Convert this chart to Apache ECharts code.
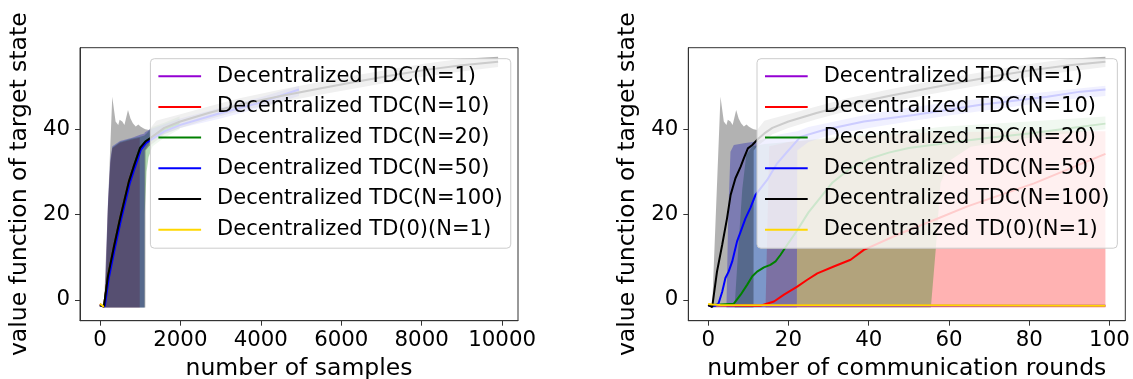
<!DOCTYPE html>
<html>
<head>
<meta charset="utf-8">
<script src="https://cdn.jsdelivr.net/npm/echarts@6/dist/echarts.min.js"></script>
<style>
  html, body { margin: 0; padding: 0; background: #fff; }
  #chart { width: 1133px; height: 379px; }
</style>
</head>
<body>
<div id="chart"></div>
<script>
// series order as plotted: N=1, N=10, N=20, N=50, N=100, TD(0)
const seriesNames = [
  'Decentralized TDC(N=1)',
  'Decentralized TDC(N=10)',
  'Decentralized TDC(N=20)',
  'Decentralized TDC(N=50)',
  'Decentralized TDC(N=100)',
  'Decentralized TD(0)(N=1)'
];
const seriesColors = ['#9400d3', '#ff0000', '#008000', '#0000ff', '#000000', '#ffd700'];

const xTicksSamples = [0, 2000, 4000, 6000, 8000, 10000];
const xTicksRounds = [0, 20, 40, 60, 80, 100];
const yTicks = [0, 20, 40];

// ---- left panel: x = number of samples ----
const leftPurpleSamples = [0, 50, 99];
const leftPurpleValues = [-1.0, -1.4, -1.6];
const leftRedSamples = [0, 100, 200, 350, 500, 720, 850, 990];
const leftRedValues = [-1.3, -1.6, 5.5, 12.5, 19, 27.7, 31.5, 34.6];
const leftGreenSamples = [0, 100, 200, 350, 500, 720, 850, 1000, 1130, 1240, 1600, 1980];
const leftGreenValues = [-1.3, -1.6, 5.5, 12.5, 19, 27.7, 31.5, 35.6, 37.1, 37.8, 40.0, 41.3];
const leftBlueSamples = [0, 120, 220, 370, 520, 740, 870, 1020, 1150, 1260, 1600, 2000, 2900, 3900, 4950];
const leftBlueValues = [-1.3, -1.6, 5, 12, 18.5, 27.2, 31, 35.2, 36.8, 37.5, 39.5, 41, 43.5, 46, 49.3];
const leftBlackSamples = [0, 100, 200, 350, 500, 720, 850, 1000, 1130, 1240, 1600, 2000, 2700, 3500, 4500, 5500, 6300, 7200, 8100, 9000, 9900];
const leftBlackValues = [-1.2, -1.6, 5.5, 12.5, 19, 27.7, 31.5, 35.6, 37.1, 37.8, 40.3, 41.8, 43.8, 45.8, 47.8, 49.6, 51, 52.5, 53.9, 55, 55.8];
const leftGoldSamples = [0, 50, 99];
const leftGoldValues = [-0.9, -1.3, -1.7];

const leftRedBandSamples = [125, 200, 260, 310, 500, 800, 990];
const leftRedBandLow = [-1.8, -1.8, -1.8, -1.8, -1.8, -1.8, -1.8];
const leftRedBandHigh = [-1.5, 22, 32, 35.5, 36.8, 37.6, 38];
const leftGreenBandSamples = [130, 200, 260, 310, 500, 800, 1000, 1110, 1112, 1160, 1210, 1310, 1600, 1980];
const leftGreenBandLow = [-1.8, -1.8, -1.8, -1.8, -1.8, -1.8, -1.8, -1.8, 20, 30, 33.5, 36, 38, 40];
const leftGreenBandHigh = [-1.5, 22, 32, 35.7, 37, 37.8, 38.2, 38.5, 38.6, 39, 39.5, 40.5, 41.5, 43];
const leftBlueBandSamples = [115, 200, 260, 310, 500, 800, 1000, 1110, 1112, 1250, 1500, 2000, 3000, 4000, 4950];
const leftBlueBandLow = [-1.8, -1.8, -1.8, -1.8, -1.8, -1.8, -1.8, -1.8, 35, 37, 38.5, 40.3, 42.5, 45, 47.8];
const leftBlueBandHigh = [-1.5, 23, 33, 36, 37.2, 38, 38.7, 39, 39.2, 40, 40.8, 42.5, 45, 47.5, 50.2];
const leftBlackBandSamples = [100, 307, 390, 456, 490, 556, 610, 698, 760, 820, 890, 955, 1010, 1080, 1130, 1135, 1220, 1400, 1600, 2000, 2700, 3500, 4500, 5500, 6300, 7200, 8100, 9000, 9900];
const leftBlackBandLow = [-1.8, -1.8, -1.8, -1.8, -1.8, -1.8, -1.8, -1.8, -1.8, -1.8, -1.8, -1.8, -1.8, -1.8, -1.8, 35, 36, 37.3, 38.8, 40.3, 42.3, 44.3, 46.3, 48.1, 49.5, 51, 52.4, 53.5, 54.6];
const leftBlackBandHigh = [-1.5, 47.6, 41.8, 41.0, 42.2, 41.8, 41.0, 44.5, 42.5, 41.4, 40.6, 41.1, 40.6, 40.2, 40.0, 40.0, 39.8, 42, 42.5, 43.5, 45.3, 47.3, 49.3, 51.1, 52.5, 54, 55.4, 56.5, 57];

// ---- right panel: x = number of communication rounds ----
const purpleRounds = [0, 25, 50, 75, 99];
const purpleValues = [-1.3, -1.4, -1.4, -1.4, -1.4];
const redRounds = [0, 13, 16.4, 18.9, 22.2, 24.7, 27.2, 31.3, 35.5, 38.8, 48, 56.3, 64.6, 72.9, 81.2, 89.5, 99];
const redValues = [-1.3, -1.4, -0.4, 1.2, 3.1, 4.7, 6.2, 7.8, 9.4, 11.7, 15.6, 18.7, 21.9, 24.6, 27.3, 30.5, 34.2];
const greenRounds = [0, 6.4, 8.1, 9.7, 11, 12.2, 13.9, 15.5, 16.8, 18, 19.7, 22, 25, 28, 31, 35, 40, 45, 50, 60, 70, 80, 90, 99];
const greenValues = [-1.3, -0.9, 1.2, 3.5, 5.5, 6.6, 7.6, 8.2, 9, 10.5, 12.9, 16, 20.5, 24, 27.5, 30.5, 33, 34.5, 35.6, 36.8, 38, 39, 40.2, 41.3];
const blueRounds = [0, 1, 1.8, 2.6, 3.5, 4.3, 5.1, 6, 7.2, 8.1, 9.3, 10.5, 11.8, 14.7, 17.2, 19.7, 23, 28.8, 38.8, 51.3, 67.9, 84.5, 92.8, 99];
const blueValues = [-1.3, -1.5, -1.4, -0.8, 1.9, 5.1, 6.6, 9, 13.7, 16, 19.1, 21.5, 24.6, 28.1, 32, 34.7, 38.2, 39.8, 41.8, 43.3, 45.7, 47.6, 48.8, 49.3];
const blackRounds = [0, 1, 2.2, 3.5, 4.7, 5.6, 6.8, 8.1, 8.9, 9.9, 11, 12.2, 14, 16, 20, 27, 35, 45, 55, 63, 72, 81, 90, 99];
const blackValues = [-1.2, -1.7, 6.6, 12.9, 19.1, 24.6, 28.5, 31.2, 33.2, 35.5, 36.3, 37.5, 39, 40.3, 41.8, 43.8, 45.8, 47.8, 49.6, 51, 52.5, 53.9, 55, 55.8];
const goldRounds = [0, 1, 3, 25, 50, 75, 99];
const goldValues = [-1.0, -1.1, -1.2, -1.25, -1.3, -1.35, -1.4];

const redBandRounds = [14.3, 15.2, 20, 30, 40, 56, 70, 85, 99];
const redBandLow = [-1.8, -1.8, -1.8, -1.8, -1.8, -1.8, -1.8, -1.8, -1.8];
const redBandHigh = [-1.5, 36, 37, 37.8, 38.5, 39.3, 39.4, 39.5, 39.5];
const greenBandRounds = [6.6, 7.5, 8.5, 9.5, 11, 14, 20, 30, 40, 50, 55.5, 56.7, 57.9, 60.4, 65.4, 80, 99];
const greenBandLow = [-1.8, -1.8, -1.8, -1.8, -1.8, -1.8, -1.8, -1.8, -1.8, -1.8, -1.8, 11.7, 27.4, 32.8, 35.9, 38, 40];
const greenBandHigh = [-1.5, 12, 26, 34, 36, 36.5, 37, 38, 39, 39.8, 40.2, 40.4, 40.5, 40.7, 41, 41.8, 43];
const blueBandRounds = [4.56, 5.0, 5.56, 6.4, 8.9, 11.8, 15, 18, 22.1, 22.2, 25, 30, 40, 50, 60, 70, 80, 90, 99];
const blueBandLow = [-1.8, -1.8, -1.8, -1.8, -1.8, -1.8, -1.8, -1.8, -1.8, 35, 37, 38.5, 40.3, 41.8, 43.2, 44.5, 45.8, 47, 47.8];
const blueBandHigh = [-1.5, 20, 34.7, 36.3, 36.7, 37.1, 38, 38.8, 39.5, 39.5, 40.5, 41.5, 43.5, 45, 46.3, 47.3, 48.3, 49.3, 50.2];
const blackBandRounds = [1, 3.07, 3.9, 4.56, 4.9, 5.56, 6.1, 6.98, 7.6, 8.2, 8.9, 9.55, 10.1, 10.8, 11.3, 11.35, 12.2, 14, 16, 20, 27, 35, 45, 55, 63, 72, 81, 90, 99];
const blackBandLow = [-1.8, -1.8, -1.8, -1.8, -1.8, -1.8, -1.8, -1.8, -1.8, -1.8, -1.8, -1.8, -1.8, -1.8, -1.8, 35, 36, 37.3, 38.8, 40.3, 42.3, 44.3, 46.3, 48.1, 49.5, 51, 52.4, 53.5, 54.6];
const blackBandHigh = [-1.5, 47.6, 41.8, 41.0, 42.2, 41.8, 41.0, 44.5, 42.5, 41.4, 40.6, 41.1, 40.6, 40.2, 40.0, 40.0, 39.8, 42, 42.5, 43.5, 45.3, 47.3, 49.3, 51.1, 52.5, 54, 55.4, 56.5, 57];

// [xs, ys] per series index, per panel
const panelLines = [
  [
    [leftPurpleSamples, leftPurpleValues],
    [leftRedSamples, leftRedValues],
    [leftGreenSamples, leftGreenValues],
    [leftBlueSamples, leftBlueValues],
    [leftBlackSamples, leftBlackValues],
    [leftGoldSamples, leftGoldValues]
  ],
  [
    [purpleRounds, purpleValues],
    [redRounds, redValues],
    [greenRounds, greenValues],
    [blueRounds, blueValues],
    [blackRounds, blackValues],
    [goldRounds, goldValues]
  ]
];
// [series index, xs, low, high] per panel, in drawing order
const panelBands = [
  [
    [1, leftRedBandSamples, leftRedBandLow, leftRedBandHigh],
    [2, leftGreenBandSamples, leftGreenBandLow, leftGreenBandHigh],
    [3, leftBlueBandSamples, leftBlueBandLow, leftBlueBandHigh],
    [4, leftBlackBandSamples, leftBlackBandLow, leftBlackBandHigh]
  ],
  [
    [1, redBandRounds, redBandLow, redBandHigh],
    [2, greenBandRounds, greenBandLow, greenBandHigh],
    [3, blueBandRounds, blueBandLow, blueBandHigh],
    [4, blackBandRounds, blackBandLow, blackBandHigh]
  ]
];

const FONT = 'DejaVu Sans';
const FS = 21.3;       // tick labels
const NAME_FS = 23.5;  // axis titles
const AXIS_COLOR = '#333';

function bandSeries(band, axis) {
  const [si, xs, low, high] = band;
  const color = seriesColors[si];
  return {
    type: 'custom',
    name: seriesNames[si] + ' band' + axis,
    xAxisIndex: axis,
    yAxisIndex: axis,
    silent: true,
    z: 1,
    data: xs.map((x, i) => [x, low[i], high[i]]),
    encode: { x: 0, y: [1, 2] },
    renderItem: (params, api) => {
      if (params.dataIndexInside !== 0) return null;
      const n = params.dataInsideLength;
      const top = [];
      const bottom = [];
      for (let i = 0; i < n; i++) {
        top.push(api.coord([api.value(0, i), api.value(2, i)]));
        bottom.push(api.coord([api.value(0, i), api.value(1, i)]));
      }
      return {
        type: 'polygon',
        shape: { points: top.concat(bottom.reverse()) },
        style: { fill: color, opacity: 0.3 }
      };
    }
  };
}

function lineSeries(si, axis) {
  const [xs, ys] = panelLines[axis][si];
  return {
    type: 'line',
    name: seriesNames[si],
    xAxisIndex: axis,
    yAxisIndex: axis,
    silent: true,
    z: 3,
    symbol: 'none',
    showSymbol: false,
    data: xs.map((x, i) => [x, ys[i]]),
    itemStyle: { color: seriesColors[si] },
    lineStyle: { color: seriesColors[si], width: 2 }
  };
}

function xAxis(grid, min, max, ticks, name) {
  return {
    type: 'value',
    gridIndex: grid,
    min, max,
    name,
    nameLocation: 'middle',
    nameGap: 36,
    nameTextStyle: { fontFamily: FONT, fontSize: NAME_FS, color: '#000' },
    axisLine: { show: true, onZero: false, lineStyle: { color: AXIS_COLOR, width: 1 } },
    axisTick: { show: true, length: 5, customValues: ticks, lineStyle: { color: AXIS_COLOR } },
    axisLabel: { customValues: ticks, margin: 9, fontFamily: FONT, fontSize: FS, color: '#000', formatter: (v) => String(v) },
    splitLine: { show: false }
  };
}

function yAxis(grid) {
  return {
    type: 'value',
    gridIndex: grid,
    min: -4.9,
    max: 59.1,
    name: 'value function of target state',
    nameLocation: 'middle',
    nameGap: 48,
    nameTextStyle: { fontFamily: FONT, fontSize: NAME_FS, color: '#000' },
    axisLine: { show: true, onZero: false, lineStyle: { color: AXIS_COLOR, width: 1 } },
    axisTick: { show: true, length: 5, customValues: yTicks, lineStyle: { color: AXIS_COLOR } },
    axisLabel: { customValues: yTicks, margin: 10, fontFamily: FONT, fontSize: FS, color: '#000', formatter: (v) => String(v) },
    splitLine: { show: false }
  };
}

function legend(left) {
  return {
    data: seriesNames,
    orient: 'vertical',
    left,
    top: 58.7,
    padding: [7, 8, 8, 8],
    itemGap: 9.7,
    itemWidth: 42.7,
    itemHeight: 2,
    icon: 'rect',
    backgroundColor: 'rgba(255,255,255,0.8)',
    borderColor: '#cccccc',
    borderWidth: 1,
    borderRadius: 4,
    selectedMode: false,
    textStyle: { fontFamily: FONT, fontSize: 21, color: '#000', lineHeight: 21, padding: [0, 0, 0, 11] }
  };
}

const series = [];
[0, 1].forEach((axis) => {
  panelBands[axis].forEach((b) => series.push(bandSeries(b, axis)));
  seriesNames.forEach((_, si) => series.push(lineSeries(si, axis)));
});

const chart = echarts.init(document.getElementById('chart'), null, { renderer: 'canvas' });
chart.setOption({
  animation: false,
  backgroundColor: '#ffffff',
  grid: [
    { left: 80, top: 47.7, width: 438, height: 273, show: true, borderColor: AXIS_COLOR, borderWidth: 1, backgroundColor: 'transparent', outerBoundsMode: 'none' },
    { left: 688.3, top: 47.7, width: 437, height: 273, show: true, borderColor: AXIS_COLOR, borderWidth: 1, backgroundColor: 'transparent', outerBoundsMode: 'none' }
  ],
  xAxis: [
    xAxis(0, -495, 10395, xTicksSamples, 'number of samples'),
    xAxis(1, -4.95, 103.95, xTicksRounds, 'number of communication rounds')
  ],
  yAxis: [yAxis(0), yAxis(1)],
  legend: [legend(150.4), legend(757)],
  series
});
</script>
</body>
</html>
